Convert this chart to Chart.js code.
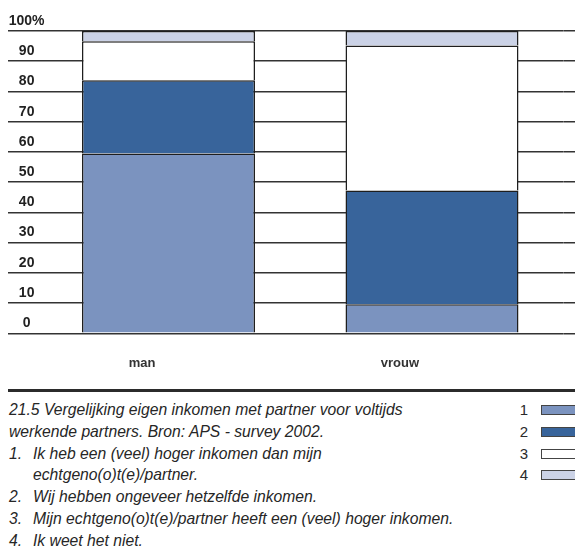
<!DOCTYPE html>
<html><head><meta charset="utf-8">
<script src="https://cdn.jsdelivr.net/npm/chart.js@4/dist/chart.umd.min.js"></script>
<style>
html,body{margin:0;padding:0;background:#fff;width:575px;height:558px;overflow:hidden;}
#wrap{position:absolute;left:0;top:0;width:575px;height:388px;}
#rule{position:absolute;left:8px;top:389px;width:567px;height:3px;background:#2b2b2b;}
#cap{position:absolute;left:9px;top:399px;font:italic 15.7px 'Liberation Sans',Arial,sans-serif;line-height:21.8px;color:#262626;white-space:nowrap;}
#cap .n{display:inline-block;width:24px;}
#cap .ind{padding-left:24px;}
#leg{position:absolute;left:470px;top:399px;font:15px 'Liberation Sans',Arial,sans-serif;color:#2a2a2a;}
#leg .row{height:21.8px;line-height:21.8px;white-space:nowrap;}
#leg .num{display:inline-block;width:58px;text-align:right;vertical-align:top;}
#leg .box{display:inline-block;width:40px;height:8px;margin-left:13px;margin-top:6px;border:1px solid #444;vertical-align:top;}
</style>
</head><body>
<div id="wrap"><canvas id="c" width="575" height="388"></canvas></div>
<div id="rule"></div>
<div id="cap">
<div>21.5 Vergelijking eigen inkomen met partner voor voltijds</div>
<div>werkende partners. Bron: APS - survey 2002.</div>
<div><span class="n">1.</span>Ik heb een (veel) hoger inkomen dan mijn</div>
<div class="ind">echtgeno(o)t(e)/partner.</div>
<div><span class="n">2.</span>Wij hebben ongeveer hetzelfde inkomen.</div>
<div><span class="n">3.</span>Mijn echtgeno(o)t(e)/partner heeft een (veel) hoger inkomen.</div>
<div><span class="n">4.</span>Ik weet het niet.</div>
</div>
<div id="leg"></div>
<script>
const categories = ['man', 'vrouw'];
const seriesLabels = ['1', '2', '3', '4'];
const series1 = [59.5, 9.6];
const series2 = [24.2, 37.6];
const series3 = [12.9, 48.0];
const series4 = [3.4, 4.8];
const seriesColors = ['#7b93bf', '#38649b', '#ffffff', '#cbd2e6'];
const yMin = 0, yMax = 100, yStep = 10;

const seriesData = [series1, series2, series3, series4];
const datasets = seriesData.map((d, i) => ({
  label: seriesLabels[i],
  data: d,
  backgroundColor: seriesColors[i],
  borderColor: '#1e1e1e',
  borderWidth: 1.5,
  borderSkipped: 'start',
  categoryPercentage: 1,
  barPercentage: 0.6565
}));

const leg = document.getElementById('leg');
seriesLabels.forEach((l, i) => {
  const r = document.createElement('div');
  r.className = 'row';
  r.innerHTML = '<span class="num">' + l + '</span><span class="box" style="background:' + seriesColors[i] + '"></span>';
  leg.appendChild(r);
});

const gridColor = '#333333';
new Chart(document.getElementById('c'), {
  type: 'bar',
  data: { labels: categories, datasets: datasets },
  options: {
    responsive: false,
    animation: false,
    devicePixelRatio: 1,
    layout: { padding: { left: 8, right: 0, top: 31, bottom: 14.7 } },
    plugins: { legend: { display: false }, tooltip: { enabled: false } },
    scales: {
      x: {
        stacked: true,
        grid: { display: false, drawTicks: false },
        border: { display: false },
        ticks: {
          font: { family: "'Liberation Sans', Arial, sans-serif", size: 13, weight: 'bold' },
          color: '#333',
          padding: 22,
          align: 'end',
          labelOffset: -13
        },
        afterFit: s => { s.height = 40; }
      },
      y: {
        stacked: true,
        position: 'left',
        min: yMin, max: yMax,
        grid: { color: gridColor, lineWidth: 1.5, drawTicks: true, tickLength: 28.75, tickColor: gridColor, tickWidth: 1.5 },
        border: { display: false },
        ticks: {
          stepSize: yStep,
          font: { family: "'Liberation Sans', Arial, sans-serif", size: 14, weight: 'bold' },
          color: '#222',
          mirror: true,
          crossAlign: 'center',
          padding: -28,
          labelOffset: -10,
          callback: v => v === 100 ? '100%' : String(v)
        },
        afterFit: s => { s.width = 28.75; }
      },
      yR: {
        position: 'right',
        min: yMin, max: yMax,
        grid: { drawOnChartArea: false, drawTicks: true, tickLength: 11.25, tickColor: gridColor, tickWidth: 1.5, color: gridColor, lineWidth: 1.5 },
        border: { display: false },
        ticks: { display: false, stepSize: yStep },
        afterFit: s => { s.width = 11.25; }
      }
    }
  }
});
</script>
</body></html>
